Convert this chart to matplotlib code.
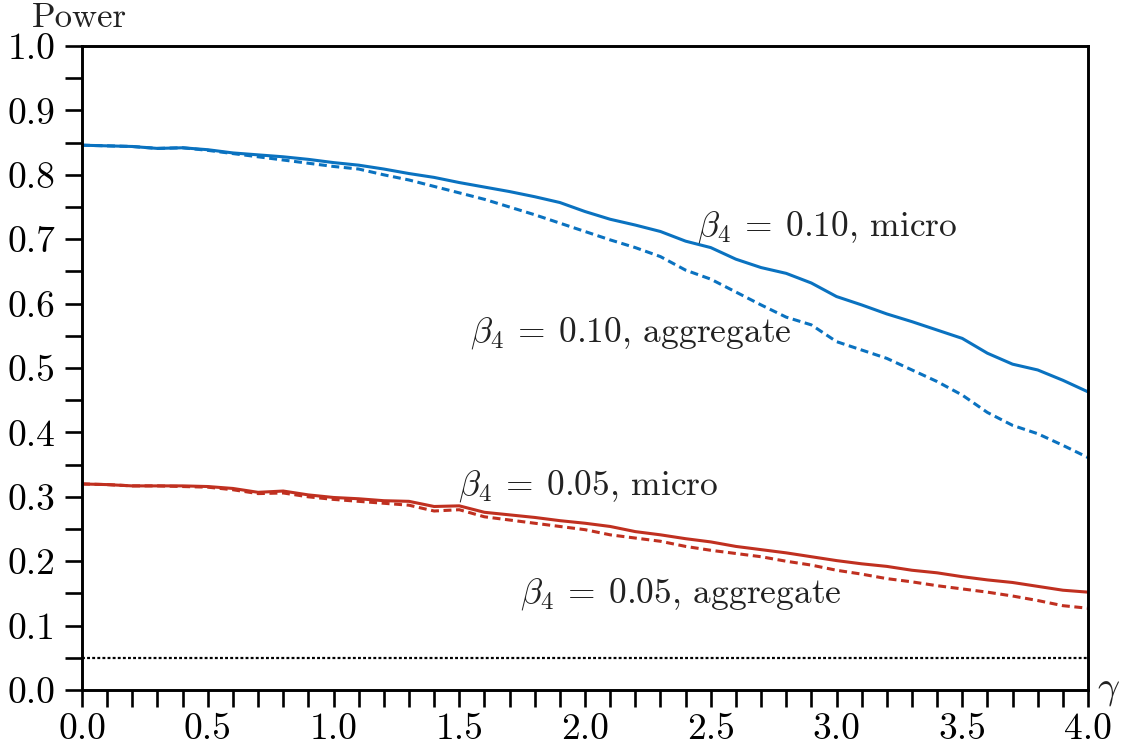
#!/usr/bin/python

import numpy as np

from matplotlib import use
use('agg')

from matplotlib import rc, rcParams
rc('font', **{'family': 'serif', 'serif': ['cmr10', 'DejaVu Serif'], 'size': 24})
rc('mathtext', fontset='cm')
rcParams['axes.formatter.use_mathtext'] = True

import matplotlib.pyplot as plt

c_blue, c_red = '#0a72c0', '#c03020'

gamma = [0.0, 0.1, 0.2, 0.3, 0.4, 0.5, 0.6, 0.7, 0.8, 0.9,
         1.0, 1.1, 1.2, 1.3, 1.4, 1.5, 1.6, 1.7, 1.8, 1.9,
         2.0, 2.1, 2.2, 2.3, 2.4, 2.5, 2.6, 2.7, 2.8, 2.9,
         3.0, 3.1, 3.2, 3.3, 3.4, 3.5, 3.6, 3.7, 3.8, 3.9, 4.0]

# beta4 = 0.10
blue_micro = [0.846, 0.845, 0.844, 0.841, 0.842, 0.839, 0.834, 0.831, 0.828, 0.824,
              0.819, 0.815, 0.809, 0.802, 0.796, 0.788, 0.781, 0.774, 0.766, 0.757,
              0.743, 0.731, 0.722, 0.712, 0.697, 0.687, 0.669, 0.656, 0.647, 0.632,
              0.611, 0.598, 0.584, 0.572, 0.559, 0.546, 0.523, 0.506, 0.497, 0.481, 0.463]
blue_agg = [0.846, 0.845, 0.844, 0.841, 0.842, 0.838, 0.833, 0.828, 0.823, 0.818,
            0.813, 0.809, 0.800, 0.792, 0.782, 0.772, 0.762, 0.750, 0.738, 0.725,
            0.712, 0.699, 0.687, 0.673, 0.652, 0.638, 0.618, 0.598, 0.579, 0.567,
            0.541, 0.528, 0.515, 0.497, 0.479, 0.458, 0.431, 0.411, 0.398, 0.380, 0.361]

# beta4 = 0.05
red_micro = [0.320, 0.319, 0.317, 0.317, 0.317, 0.316, 0.313, 0.307, 0.309, 0.303,
             0.299, 0.297, 0.294, 0.293, 0.285, 0.286, 0.276, 0.272, 0.268, 0.263,
             0.259, 0.254, 0.246, 0.241, 0.235, 0.230, 0.223, 0.218, 0.213, 0.207,
             0.201, 0.196, 0.192, 0.186, 0.182, 0.176, 0.171, 0.167, 0.161, 0.155, 0.152]
red_agg = [0.320, 0.319, 0.317, 0.317, 0.316, 0.315, 0.311, 0.305, 0.306, 0.300,
           0.296, 0.293, 0.290, 0.287, 0.278, 0.280, 0.269, 0.264, 0.259, 0.254,
           0.249, 0.241, 0.236, 0.231, 0.223, 0.217, 0.212, 0.207, 0.200, 0.194,
           0.186, 0.180, 0.173, 0.168, 0.162, 0.157, 0.152, 0.146, 0.139, 0.131, 0.127]

size_level = 0.05

labels = [r'$\beta_4\:=\:0.10$, micro', r'$\beta_4\:=\:0.10$, aggregate',
          r'$\beta_4\:=\:0.05$, micro', r'$\beta_4\:=\:0.05$, aggregate']
label_pos = [(2.445, 0.719), (1.543, 0.554), (1.495, 0.317), (1.742, 0.149)]


def main():
    fig = plt.figure(figsize=(11.22, 7.52), dpi=100)
    ax = fig.add_axes([0.0731, 0.0824, 0.8966, 0.8564])

    lw = 2.2
    ax.plot(gamma, blue_micro, color=c_blue, lw=lw)
    ax.plot(gamma, blue_agg, color=c_blue, lw=lw, dashes=(2.6, 1.5))
    ax.plot(gamma, red_micro, color=c_red, lw=lw)
    ax.plot(gamma, red_agg, color=c_red, lw=lw, dashes=(2.6, 1.5))
    ax.plot([gamma[0], gamma[-1]], [size_level, size_level], color='black',
            lw=1.6, dashes=(1.3, 1.0))

    for txt, (x, y) in zip(labels, label_pos):
        ax.text(x, y, txt, ha='left', va='center', color='#222222', fontsize=25.5)

    ax.set_xlim(0, 4)
    ax.set_ylim(0, 1)
    ax.set_xticks(np.arange(0, 4.01, 0.5))
    ax.set_xticks(np.arange(0, 4.01, 0.1), minor=True)
    ax.set_yticks(np.arange(0, 1.01, 0.1))
    ax.set_yticks(np.arange(0.05, 1.0, 0.1), minor=True)
    ax.set_xticklabels(['%.1f' % v for v in np.arange(0, 4.01, 0.5)])
    ax.set_yticklabels(['%.1f' % v for v in np.arange(0, 1.01, 0.1)])

    for sp in ax.spines.values():
        sp.set_linewidth(2.1)
    ax.tick_params(which='both', direction='out', length=12, width=1.9,
                   labelsize=27, colors='black')
    ax.tick_params(axis='y', which='major', pad=7)
    ax.tick_params(axis='x', which='major', pad=4)

    ax.text(0.0447, 1.043, 'Power', transform=ax.transAxes, ha='right',
            va='center', fontsize=25, color='#222222')
    ax.text(1.009, 0.0, r'$\gamma$', transform=ax.transAxes, ha='left',
            va='center', fontsize=28, color='#222222')

    fig.savefig('out.png', dpi=100)


if __name__ == '__main__':
    main()
